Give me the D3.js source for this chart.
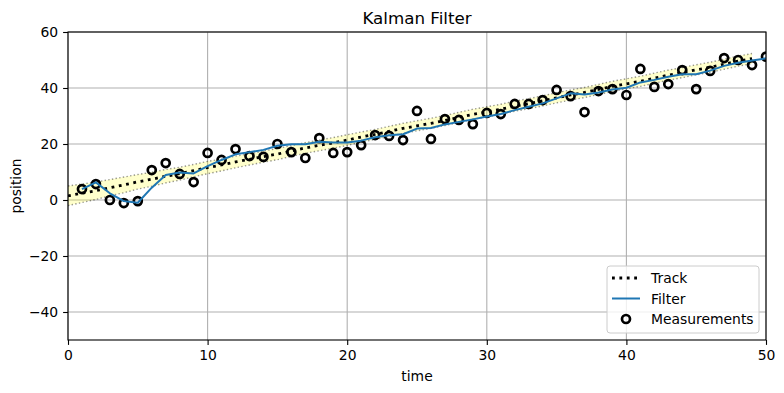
<!DOCTYPE html>
<html>
<head>
<meta charset="utf-8">
<script src="https://d3js.org/d3.v7.min.js"></script>
<style>
  body { margin: 0; background: #fff; }
  text { font-family: "DejaVu Sans", sans-serif; fill: #000; }
</style>
</head>
<body>
<svg id="chart" width="784" height="393"></svg>
<script>
// true track, plotted at t = 0..49
const track = [1.5, 2.4, 3.3, 4.4, 5.4, 6.5, 7.4, 8.5, 9.4, 10.5,
  11.6, 12.5, 13.6, 14.5, 15.5, 16.4, 17.5, 18.6, 19.5, 20.4,
  21.4, 22.5, 23.4, 24.5, 25.6, 26.5, 27.4, 28.4, 29.5, 30.6,
  31.5, 32.4, 33.5, 34.4, 35.4, 36.5, 37.5, 38.4, 39.5, 40.6,
  41.5, 42.4, 43.5, 44.6, 45.5, 46.5, 47.4, 48.5, 49.6, 50.5];
// band half width (std) around the track
const trackStd = [3.5, 3.3, 3.1, 2.9, 2.8, 2.6, 2.5, 2.4, 2.3, 2.2,
  2.2, 2.1, 2.1, 2.0, 2.0, 2.0, 1.9, 1.9, 1.9, 1.9,
  1.9, 1.8, 1.8, 1.8, 1.8, 1.8, 1.8, 1.8, 1.8, 1.8,
  1.8, 1.8, 1.8, 1.8, 1.8, 1.8, 1.8, 1.8, 1.8, 1.8,
  1.8, 1.8, 1.8, 1.8, 1.8, 1.8, 1.8, 1.8, 1.8, 1.8];
// measurements and filter output, t = 1..50
const measurements = [3.9, 5.7, 0.0, -1.1, -0.4, 10.7, 13.2, 9.3, 6.4, 16.8,
  14.3, 18.2, 15.7, 15.4, 20.0, 17.1, 15.0, 22.1, 16.8, 17.1,
  19.6, 23.2, 22.9, 21.4, 31.8, 21.8, 28.9, 28.6, 27.1, 31.1,
  30.7, 34.3, 34.3, 35.7, 39.3, 37.1, 31.4, 38.9, 39.6, 37.5,
  46.8, 40.4, 41.4, 46.4, 39.6, 46.1, 50.7, 50.0, 48.2, 51.2];
const filterOut = [3.9, 6.3, 2.4, -0.4, -1.0, 4.4, 8.9, 9.8, 9.5, 12.1,
  14.3, 16.3, 17.1, 17.9, 19.4, 19.9, 19.9, 20.8, 20.5, 20.5,
  21.2, 22.4, 23.1, 23.5, 25.5, 25.7, 27.0, 27.9, 28.8, 29.8,
  30.7, 32.1, 33.3, 34.5, 36.3, 38.1, 37.7, 38.4, 39.5, 40.1,
  42.0, 42.9, 44.0, 44.9, 44.9, 46.2, 47.9, 49.0, 49.8, 50.6];
const xTicks = [0, 10, 20, 30, 40, 50];
const yTicks = [-40, -20, 0, 20, 40, 60];

const svg = d3.select("#chart");
const m = {left: 68, right: 18, top: 32, bottom: 53};
const W = 784 - m.left - m.right, H = 393 - m.top - m.bottom;

const x = d3.scaleLinear().domain([0, 50]).range([0, W]);
const y = d3.scaleLinear().domain([-50, 60]).range([H, 0]);

const g = svg.append("g").attr("transform", "translate(" + m.left + "," + m.top + ")");

svg.append("defs").append("clipPath").attr("id", "clip")
  .append("rect").attr("width", W).attr("height", H);

// grid
g.append("g").selectAll("line").data(xTicks).enter().append("line")
  .attr("x1", d => x(d)).attr("x2", d => x(d)).attr("y1", 0).attr("y2", H)
  .attr("stroke", "#b0b0b0").attr("stroke-width", 1.1);
g.append("g").selectAll("line").data(yTicks).enter().append("line")
  .attr("y1", d => y(d)).attr("y2", d => y(d)).attr("x1", 0).attr("x2", W)
  .attr("stroke", "#b0b0b0").attr("stroke-width", 1.1);

const plot = g.append("g").attr("clip-path", "url(#clip)");

// std band
const band = track.map((v, i) => ({i: i, top: v + trackStd[i], btm: v - trackStd[i]}));
plot.append("path").datum(band)
  .attr("d", d3.area().x(d => x(d.i)).y0(d => y(d.btm)).y1(d => y(d.top)))
  .attr("fill", "yellow").attr("fill-opacity", 0.2);
["top", "btm"].forEach(k => {
  plot.append("path").datum(band)
    .attr("d", d3.line().x(d => x(d.i)).y(d => y(d[k])))
    .attr("fill", "none").attr("stroke", "#000").attr("stroke-opacity", 0.4)
    .attr("stroke-width", 1.4).attr("stroke-dasharray", "1.4,2.3");
});

// track
plot.append("path").datum(track)
  .attr("d", d3.line().x((d, i) => x(i)).y(d => y(d)))
  .attr("fill", "none").attr("stroke", "#000").attr("stroke-width", 2.8)
  .attr("stroke-dasharray", "2.8,4.6");

// measurements
plot.append("g").selectAll("circle").data(measurements).enter().append("circle")
  .attr("cx", (d, i) => x(i + 1)).attr("cy", d => y(d)).attr("r", 4)
  .attr("fill", "none").attr("stroke", "#000").attr("stroke-width", 2.7);

// filter
plot.append("path").datum(filterOut)
  .attr("d", d3.line().x((d, i) => x(i + 1)).y(d => y(d)))
  .attr("fill", "none").attr("stroke", "#1f77b4").attr("stroke-width", 2)
  .attr("stroke-linejoin", "round");

// axes
const fmt = d => d < 0 ? "\u2212" + Math.abs(d) : String(d);
const xAxis = g.append("g").attr("transform", "translate(0," + H + ")")
  .call(d3.axisBottom(x).tickValues(xTicks).tickFormat(fmt).tickSize(4.9).tickPadding(4.9));
const yAxis = g.append("g")
  .call(d3.axisLeft(y).tickValues(yTicks).tickFormat(fmt).tickSize(4.9).tickPadding(4.9));
[xAxis, yAxis].forEach(a => {
  a.select(".domain").remove();
  a.selectAll("line").attr("stroke", "#000").attr("stroke-width", 1.1);
  a.selectAll("text").attr("font-size", "13.9px").style("font-family", "DejaVu Sans");
});

g.append("rect").attr("width", W).attr("height", H)
  .attr("fill", "none").attr("stroke", "#000").attr("stroke-width", 1.1);

// labels
svg.append("text").attr("x", m.left + W / 2).attr("y", 24).attr("text-anchor", "middle")
  .attr("font-size", "16.7px").text("Kalman Filter");
svg.append("text").attr("x", m.left + W / 2).attr("y", 381).attr("text-anchor", "middle")
  .attr("font-size", "13.9px").text("time");
svg.append("text").attr("transform", "translate(21," + (m.top + H / 2) + ") rotate(-90)")
  .attr("text-anchor", "middle").attr("font-size", "13.9px").text("position");

// legend
const lg = g.append("g").attr("transform", "translate(" + (W - 159) + "," + (H - 74) + ")");
lg.append("rect").attr("width", 152).attr("height", 67).attr("rx", 3)
  .attr("fill", "#fff").attr("fill-opacity", 0.8).attr("stroke", "#ccc").attr("stroke-width", 1);
const items = ["Track", "Filter", "Measurements"];
items.forEach((name, i) => {
  const yy = 12 + i * 20.5;
  if (name === "Track") {
    lg.append("line").attr("x1", 5).attr("x2", 33).attr("y1", yy).attr("y2", yy)
      .attr("stroke", "#000").attr("stroke-width", 2.8).attr("stroke-dasharray", "2.8,4.6");
  } else if (name === "Filter") {
    lg.append("line").attr("x1", 5).attr("x2", 33).attr("y1", yy).attr("y2", yy)
      .attr("stroke", "#1f77b4").attr("stroke-width", 2);
  } else {
    lg.append("circle").attr("cx", 19).attr("cy", yy).attr("r", 4)
      .attr("fill", "none").attr("stroke", "#000").attr("stroke-width", 2.7);
  }
  lg.append("text").attr("x", 44).attr("y", yy + 5).attr("font-size", "13.9px").text(name);
});
</script>
</body>
</html>
